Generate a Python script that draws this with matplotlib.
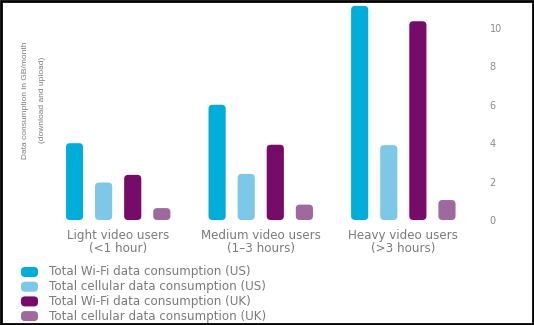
import matplotlib
matplotlib.use("Agg")
import matplotlib.pyplot as plt
from matplotlib.patches import FancyBboxPatch, Rectangle
import numpy as np

categories = ["Light video users\n(<1 hour)", "Medium video users\n(1\u20133 hours)", "Heavy video users\n(>3 hours)"]
series_names = [
    "Total Wi-Fi data consumption (US)",
    "Total cellular data consumption (US)",
    "Total Wi-Fi data consumption (UK)",
    "Total cellular data consumption (UK)",
]
wifi_us = [4.0, 6.0, 11.15]
cell_us = [1.95, 2.4, 3.9]
wifi_uk = [2.35, 3.92, 10.35]
cell_uk = [0.62, 0.8, 1.04]
y_ticks = [0, 2, 4, 6, 8, 10]
colors = ["#00AED9", "#7DC8E6", "#760B6A", "#9E6A9E"]

W, H = 534, 325
fig = plt.figure(figsize=(W / 100, H / 100), dpi=100)

# main axes (pixel placement)
x_left_px, x_right_px = 65.8, 455.7
y_base_px, y_top_px = 220, 3.0
ax = fig.add_axes([x_left_px / W, (H - y_base_px) / H,
                   (x_right_px - x_left_px) / W, (y_base_px - y_top_px) / H])

group_pos = np.array([0.0, 4.9, 9.8])
offsets = [-1.5, -0.5, 0.5, 1.5]
bar_w = 0.59
all_series = [wifi_us, cell_us, wifi_uk, cell_uk]

ax.set_xlim(-1.8, 11.6)
ax.set_ylim(0, 11.3)

fig.canvas.draw()
bbox = ax.get_window_extent()
dx_per_px = (11.6 - (-1.8)) / bbox.width
dy_per_px = 11.3 / bbox.height
r_px = 4.0

for vals, off, c in zip(all_series, offsets, colors):
    bars = ax.bar(group_pos + off, vals, width=bar_w, color=c)
    for rect in bars:
        x, y = rect.get_x(), rect.get_y()
        w, h = rect.get_width(), rect.get_height()
        rect.set_visible(False)
        p = FancyBboxPatch((x, y), w, h,
                           boxstyle=f"round,pad=0,rounding_size={r_px * dx_per_px}",
                           mutation_aspect=dy_per_px / dx_per_px,
                           facecolor=c, edgecolor="none")
        ax.add_patch(p)

for s in ax.spines.values():
    s.set_visible(False)
ax.set_xticks([])
ax.yaxis.tick_right()
ax.set_yticks(y_ticks)
ax.set_yticklabels([str(t) for t in y_ticks])
ax.tick_params(axis="y", length=0, pad=24.5, labelsize=7, labelcolor="#8a8a8a")
for lbl in ax.get_yticklabels():
    lbl.set_horizontalalignment("left")

# overlay axes in pixel coords for labels, legend, frame
ov = fig.add_axes([0, 0, 1, 1])
ov.set_xlim(0, W)
ov.set_ylim(H, 0)
ov.axis("off")

for gp, cat in zip(group_pos, categories):
    xpx = x_left_px + (gp - (-1.8)) / dx_per_px
    ov.text(xpx, 242, cat, ha="center", va="center", fontsize=8.6,
            color="#7a7a7a", linespacing=1.0, fontfamily="DejaVu Sans")

ov.text(26, 100, "Data consumption in GB/month", rotation=90, ha="center",
        va="center", fontsize=6.0, color="#7a7a7a", family="Liberation Sans")
ov.text(43, 100, "(download and upload)", rotation=90, ha="center",
        va="center", fontsize=6.0, color="#7a7a7a", family="Liberation Sans")

for i, (name, c) in enumerate(zip(series_names, colors)):
    yc = 272 + 14.7 * i
    ov.add_patch(FancyBboxPatch((21, yc - 5), 17, 10,
                                boxstyle="round,pad=0,rounding_size=4",
                                facecolor=c, edgecolor="none"))
    ov.text(49, yc, name, ha="left", va="center", fontsize=8.6,
            color="#7a7a7a", fontfamily="DejaVu Sans")

ov.add_patch(Rectangle((1, 1), W - 2, H - 2, fill=False, edgecolor="black", linewidth=2))

fig.savefig("out.png", dpi=100)
